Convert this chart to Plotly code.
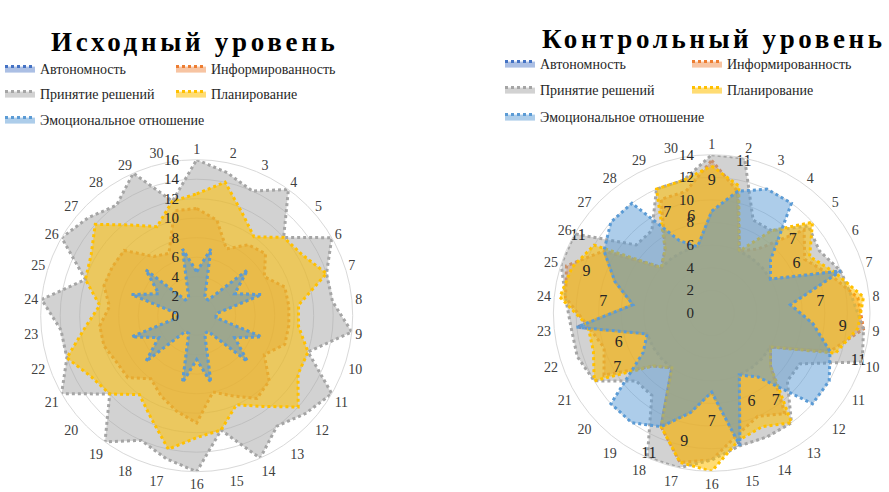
import plotly.graph_objects as go

categories = [str(i) for i in range(1, 31)]

series_names = ["Автономность", "Информированность", "Принятие решений",
                "Планирование", "Эмоциональное отношение"]

# ---- Исходный уровень ----
init_autonomy = [4.5, 7, 2, 2, 7, 4.5, 7, 2, 2, 7, 4.5, 7, 2, 2, 7,
                 4.5, 7, 2, 2, 7, 4.5, 7, 2, 2, 7, 4.5, 7, 2, 2, 7]
init_awareness = [11, 10, 7.5, 9, 9.5, 8, 9.5, 9.5, 9.5, 9.5, 8, 10, 10.5, 9, 8,
                  11, 10, 9, 8, 9.5, 9.5, 10, 10, 9, 10, 10, 10, 7.5, 7, 11]
init_decisions = [16, 15, 14, 16, 12, 16, 14, 14, 16, 12, 16, 15, 14, 16, 12,
                  16, 15, 14, 16, 12, 16, 14, 14, 16, 12, 16, 15, 14, 16, 12]
init_planning = [12.5, 14, 11.5, 10, 12, 12.5, 14, 10.5, 10.5, 12, 12, 14, 11.5, 10, 12,
                 12.5, 14, 11.5, 10, 12, 12.5, 14, 11.5, 10, 12, 12.5, 14, 11.5, 10, 12]
init_emotional = [4.5, 7, 2, 2, 7, 4.5, 7, 2, 2, 7, 4.5, 7, 2, 2, 7,
                  4.5, 7, 2, 2, 7, 4.5, 7, 2, 2, 7, 4.5, 7, 2, 2, 7]

# ---- Контрольный уровень ----
ctrl_autonomy = [9, 11, 6, 6, 6, 6, 12, 7, 9, 11, 6, 6, 6, 6, 12,
                 7, 9, 11, 6, 6, 6, 6, 12, 7, 9, 11, 6, 6, 6, 6]
ctrl_awareness = [13.5, 11, 6, 7, 11, 9.5, 11, 13, 13.5, 11, 6, 7, 11, 10, 11,
                  13, 13.5, 11, 6, 7, 11, 10, 11, 13, 13.5, 11, 6, 7, 11, 11]
ctrl_decisions = [14, 14, 9, 9, 11.5, 11, 12, 12.5, 13.5, 14, 9, 9, 12, 12, 12,
                  13, 14, 14, 9, 9, 12, 12.5, 12.5, 13, 14, 14, 9, 9, 12, 12]
ctrl_planning = [13, 11.5, 6, 9, 12, 10, 11.5, 13.5, 13, 11.5, 6, 7, 12, 11, 11.5,
                 14, 13.5, 11, 6, 7, 12, 11, 11, 13.5, 13, 12, 6, 7, 12, 12]
ctrl_emotional = [9, 11, 12, 12, 7, 6, 12, 7, 9, 11, 12, 12, 7, 6, 12,
                  7, 9, 11, 12, 12, 7, 6, 12, 7, 9, 11, 12, 12, 7, 6]

line_colors = ["#4472C4", "#ED7D31", "#A5A5A5", "#FFC000", "#5B9BD5"]
fill_colors = ["rgba(68,114,196,0.45)", "rgba(237,125,49,0.45)",
               "rgba(165,165,165,0.5)", "rgba(255,192,0,0.55)",
               "rgba(91,155,213,0.5)"]

SERIF = "Liberation Serif, Times New Roman, serif"
TEXT = "#404040"

fig = go.Figure()

charts = [
    ("polar", [init_autonomy, init_awareness, init_decisions, init_planning, init_emotional],
     ["legend", "legend", "legend2", "legend2", "legend3"]),
    ("polar2", [ctrl_autonomy, ctrl_awareness, ctrl_decisions, ctrl_planning, ctrl_emotional],
     ["legend4", "legend4", "legend5", "legend5", "legend6"]),
]

for subplot, series, legends in charts:
    for name, values, lc, fc, lg in zip(series_names, series, line_colors, fill_colors, legends):
        fig.add_trace(go.Scatterpolar(
            r=values + values[:1], theta=categories + categories[:1],
            name=name, subplot=subplot, legend=lg,
            mode="lines", fill="toself", fillcolor=fc,
            line=dict(color=lc, width=3, dash="dot"),
            hoverinfo="skip",
        ))

# value labels of Эмоциональное отношение (control level), set just outside each point
label_offset = 2.65
fig.add_trace(go.Scatterpolar(
    r=[v + label_offset for v in ctrl_emotional], theta=categories,
    mode="text", text=[f"{v:g}" for v in ctrl_emotional],
    textfont=dict(family=SERIF, size=16, color="#262626"),
    subplot="polar2", showlegend=False, hoverinfo="skip",
))


def polar_layout(domain_x, domain_y, rmax):
    return dict(
        domain=dict(x=domain_x, y=domain_y),
        bgcolor="white",
        angularaxis=dict(type="category", categoryarray=categories,
                         direction="clockwise", rotation=90,
                         showgrid=False, showline=True, linecolor="#d9d9d9", linewidth=1,
                         ticks="", tickfont=dict(family=SERIF, size=14, color=TEXT)),
        radialaxis=dict(range=[0, rmax], dtick=2, angle=90, side="counterclockwise",
                        showline=False, ticks="outside", ticklen=12,
                        tickcolor="rgba(0,0,0,0)", gridcolor="#d9d9d9", gridwidth=1,
                        tickangle=90,
                        tickfont=dict(family=SERIF, size=15, color="#262626")),
    )


W, H = 889, 492
fig.update_layout(
    width=W, height=H, margin=dict(l=0, r=0, t=0, b=0),
    paper_bgcolor="white", plot_bgcolor="white",
    polar=polar_layout([40.7 / W, 352.7 / W], [20.3 / H, 332.3 / H], 16),
    polar2=polar_layout([553.4 / W, 870.0 / W], [20.7 / H, 337.3 / H], 14),
)

legend_style = dict(orientation="h", xanchor="left", yanchor="middle",
                    bgcolor="rgba(0,0,0,0)", itemwidth=30,
                    entrywidth=126, entrywidthmode="pixels",
                    font=dict(family=SERIF, size=14, color="#262626"))
rows_y = [69, 94, 120]
rows_y_r = [64, 90, 117]
for i, key in enumerate(["legend", "legend2", "legend3"]):
    style = dict(legend_style, x=0, y=1 - rows_y[i] / H)
    if i == 2:
        style["entrywidth"] = 0
    fig.update_layout({key: style})
for i, key in enumerate(["legend4", "legend5", "legend6"]):
    style = dict(legend_style, x=500 / W, y=1 - rows_y_r[i] / H, entrywidth=142)
    if i == 2:
        style["entrywidth"] = 0
    fig.update_layout({key: style})

title_font = dict(family=SERIF, size=27, color="black")
fig.add_annotation(x=49 / W, y=1 - 25 / H, xref="paper", yref="paper", xanchor="left",
                   text="<b><span style='letter-spacing:3.7px'>Исходный уровень</span></b>",
                   showarrow=False, font=title_font)
fig.add_annotation(x=540 / W, y=1 - 22 / H, xref="paper", yref="paper", xanchor="left",
                   text="<b><span style='letter-spacing:3.6px'>Контрольный уровень</span></b>",
                   showarrow=False, font=title_font)

fig.write_html("out.html")
